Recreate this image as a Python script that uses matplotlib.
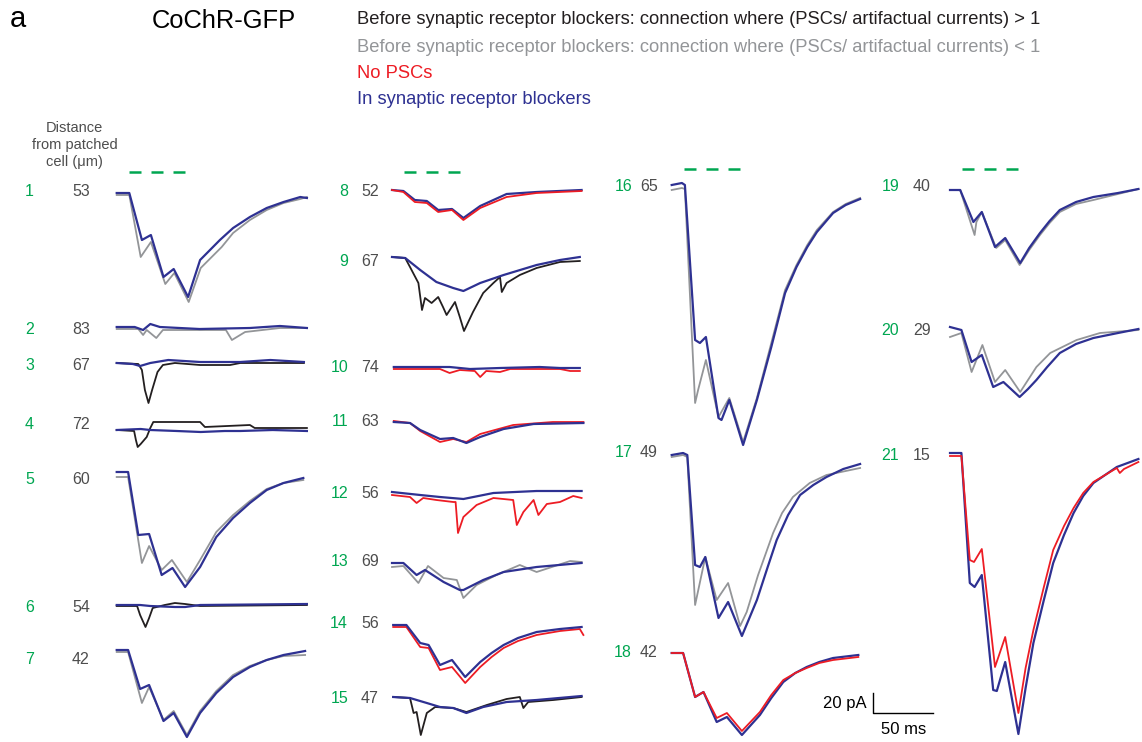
import matplotlib.pyplot as plt

plt.rcParams['font.family'] = ['Liberation Sans', 'DejaVu Sans']

BLUE = '#2e3192'
RED = '#ed1c24'
GREY = '#939598'
BLACK = '#231f20'
GREEN = '#00a651'
LABEL = '#4d4d4d'

# ---- data -------------------------------------------------------------
cell_ids = list(range(1, 22))
distances_um = [53, 83, 67, 72, 60, 54, 42, 52, 67, 74, 63, 56, 69, 56, 47,
                65, 49, 42, 40, 29, 15]

legend_lines = [
    'Before synaptic receptor blockers: connection where (PSCs/ artifactual currents) > 1',
    'Before synaptic receptor blockers: connection where (PSCs/ artifactual currents) < 1',
    'No PSCs',
    'In synaptic receptor blockers',
]

pulse_onsets_ms = [10, 28.5, 47]
pulse_width_ms = 10
scale_pA = 20
scale_ms = 50

# currents in pA (relative to baseline), time in ms from trace start
t1_b = [0, 10.5, 21, 28.5, 39, 47.5, 59.5, 69.5, 86, 97, 111, 125, 139, 153, 158.5]
i1_b = [0, 0, -47, -42, -84, -76, -104, -67, -47, -35, -24, -15, -9, -4, -5]
t1_g = [0, 10.5, 20, 28.5, 40.5, 48, 60, 70, 87.5, 97, 111, 125, 139, 153, 158.5]
i1_g = [-2, -2, -64, -49, -91, -80, -109, -75, -54, -40, -27, -17, -10, -6, -4]

t2_b = [0, 15, 22, 28, 36, 69, 111, 136, 158.5]
i2_b = [0, 0, -3, 3, 0, -2, -1, 1, -1]
t2_g = [0, 18, 22, 25, 33, 38.5, 69, 91, 96, 107, 136, 158.5]
i2_g = [-2, -2, -8, -3, -11, -3, -3, -3, -13, -5, -1, -1]

t3_b = [0, 13.5, 19.5, 28, 43, 69.5, 103, 128, 156]
i3_b = [0, -1, -3, 0, 3, 1, 1, 3, 1]
t3_k = [0, 18, 21, 23.5, 26.5, 29.5, 34, 38.5, 48.5, 69.5, 94.5, 103, 156]
i3_k = [0, -1, -7, -27, -40, -27, -9, -2, 0, -2, -2, 0, 0]

t4_b = [0, 20, 28, 50, 70, 90, 103, 130, 158.5]
i4_b = [0, 1, 0, -1, -2, -1, -1, 0, -1]
t4_k = [0, 14.5, 16, 17.5, 20, 25, 28, 30.5, 40, 69.5, 73.5, 111, 115, 158.5]
i4_k = [0, -1, -10, -17, -14, -7, 2, 8, 8, 8, 3, 5, 2, 2]

t5_b = [0, 9.5, 18, 27, 37.5, 46.5, 57, 69.5, 83, 97, 111, 125, 139, 155.5]
i5_b = [0, 0, -63, -62, -103, -96, -115, -95, -65, -46, -31, -18, -11, -6]
t5_g = [0, 9.5, 21, 27, 37.5, 46, 58.5, 69.5, 83, 97, 111, 125, 139, 155.5]
i5_g = [-5, -5, -91, -74, -98, -88, -110, -88, -60, -43, -29, -17, -11, -8]

t6_b = [0, 19.5, 28, 48.5, 57, 69.5, 158.5]
i6_b = [0, 0, -1, -2, -2, 0, 1]
t6_k = [0, 17, 19.5, 24, 27, 30, 40, 48.5, 57, 69.5, 158.5]
i6_k = [-1, -1, -10, -22, -13, -3, 0, 2, 1, -1, 0]

t7_b = [0, 9.5, 19.5, 27, 39, 47.5, 58.5, 69.5, 83, 97, 111, 125, 139, 157]
i7_b = [0, 0, -39, -35, -71, -63, -87, -63, -43, -27, -17, -10, -5, -1]
t7_g = [0, 9.5, 21, 27, 39, 47.5, 58.5, 69.5, 83, 97, 111, 125, 139, 157]
i7_g = [-2, -2, -53, -37, -70, -61, -85, -61, -41, -25, -16, -10, -6, -5]

t8 = [0, 9.5, 19, 29, 38.5, 50, 59.5, 73.5, 95.5, 120.5, 158]
i8_r = [0, -2, -12, -13, -22, -20, -30, -18, -7, -3, -1]
i8_b = [0, -1, -10, -11, -20, -19, -28, -16, -4, -2, 0]

t9_b = [0, 11, 23.5, 37, 51, 59.5, 73.5, 93, 120.5, 140, 156.5]
i9_b = [0, -1, -13, -25, -31, -34, -26, -18, -8, -3, 0]
t9_k = [0, 11, 15, 22, 25, 27.5, 33, 38.5, 42.5, 45.5, 52.5, 56.5, 60, 67.5,
        76, 84.5, 90, 91.5, 95.5, 106.5, 120.5, 140, 156.5]
i9_k = [0, -1, -10, -26, -53, -41, -46, -40, -50, -58, -45, -60, -74, -55,
        -36, -26, -20, -35, -26, -18, -11, -5, -4]

t10_b = [1.5, 48, 65, 90, 123, 140, 156.5]
i10_b = [0, 0, -2, -1, 0, -1, -1]
t10_r = [1.5, 40, 48, 56.5, 69, 73.5, 78.5, 90, 98.5, 140, 148.5, 156.5]
i10_r = [-2, -2, -6, -3, -4, -10, -4, -5, -2, -2, -4, -4]

t11_b = [1.5, 15, 23.5, 40, 51, 62, 73.5, 93, 118, 159.5]
i11_b = [0, -1, -8, -17, -16, -21, -15, -7, -2, -1]
t11_r = [1.5, 15, 23.5, 40, 51, 62, 73.5, 101, 134, 159.5]
i11_r = [1, -1, -9, -20, -17, -20, -12, -3, 0, 0]

t12_b = [0, 23.5, 40, 59.5, 84.5, 120.5, 158]
i12_b = [0, -3, -5, -7, -1, 1, 1]
t12_r = [0, 15, 20.5, 26, 37, 51, 53, 55, 59.5, 70.5, 84.5, 101, 104, 109.5,
         118, 122, 129, 140, 151, 158]
i12_r = [-3, -5, -11, -6, -8, -10, -10, -41, -25, -13, -6, -8, -33, -20,
         -8, -23, -12, -10, -4, -6]

t13_b = [0, 9.5, 20.5, 27.5, 43, 56.5, 59.5, 76, 93, 120.5, 158]
i13_b = [0, 0, -12, -7, -19, -27, -27, -17, -9, -4, 0]
t13_g = [0, 9.5, 22, 30, 43, 54, 59.5, 70.5, 87, 106.5, 120.5, 148.5, 158]
i13_g = [-4, -3, -20, -3, -15, -17, -35, -22, -12, -2, -9, 2, 1]

t14_b = [1, 12, 23.5, 30.5, 40, 50, 61, 73.5, 83, 93, 105, 120.5, 140, 158]
i14_b = [0, 0, -18, -20, -40, -35, -52, -37, -28, -20, -13, -7, -4, -2]
t14_r = [1, 12, 23.5, 30.5, 40, 50, 61, 73.5, 83, 93, 105, 120.5, 140, 156.5, 159.5]
i14_r = [-2, -2, -22, -23, -45, -42, -58, -42, -32, -23, -16, -10, -6, -4, -10]

t15_b = [1, 15, 29, 40, 51, 62, 76, 95.5, 120.5, 158]
i15_b = [0, -1, -6, -10, -11, -16, -10, -5, -3, 1]
t15_k = [1, 15, 18, 20.5, 24, 29, 36, 51, 62, 79, 95.5, 106.5, 109.5, 113.5,
         134.5, 158]
i15_k = [0, -1, -16, -15, -38, -16, -10, -11, -15, -8, -2, 0, -11, -5, -3, 0]

t16_b = [0, 8.5, 11, 19.5, 23.5, 28.5, 39, 41.5, 48, 59.5, 71, 83, 94.5, 104,
         113, 121, 134.5, 145, 157]
i16_b = [0, 2, 0, -155, -158, -152, -233, -235, -215, -260, -215, -162, -108,
         -82, -62, -47, -28, -20, -14]
t16_g = [0, 8.5, 11, 19.5, 22, 28.5, 39, 48, 59.5, 71, 83, 94.5, 104, 113,
         121, 134.5, 145, 157]
i16_g = [-5, -3, -4, -218, -205, -175, -232, -213, -257, -213, -158, -105,
         -80, -60, -45, -27, -19, -13]

t17_b = [0, 9.5, 13, 19.5, 23.5, 28, 39, 47, 58.5, 71, 80, 87.5, 97, 107,
         118, 129, 143, 157]
i17_b = [0, 2, 0, -110, -112, -102, -163, -147, -181, -145, -112, -85, -60,
         -40, -30, -22, -14, -9]
t17_g = [0, 9.5, 13, 19.5, 28, 37.5, 47, 57, 62.5, 72, 84.5, 92, 101, 115,
         129, 157]
i17_g = [-2, 0, -2, -150, -102, -145, -128, -171, -157, -120, -78, -58, -42,
         -28, -20, -13]

t18 = [0, 9.5, 19.5, 26.5, 37.5, 46, 58.5, 73.5, 83, 93, 103, 112.5, 123,
       134.5, 155.5]
i18_b = [0, 0, -44, -39, -69, -64, -82, -62, -45, -29, -20, -14, -9, -5, -2]
i18_r = [0, 0, -44, -39, -65, -60, -78, -59, -42, -27, -20, -15, -10, -7, -4]

t19_b = [0, 8.5, 19.5, 26.5, 37.5, 46, 58.5, 66, 75, 83, 91.5, 105, 119.5,
         140, 157]
i19_b = [0, 0, -32, -22, -57, -48, -73, -58, -43, -31, -20, -12, -7, -3, 1]
t19_g = [0, 8.5, 20.5, 22, 26.5, 38.5, 46, 58, 66, 75, 83, 91.5, 105, 119.5,
         140, 157]
i19_g = [0, 0, -45, -32, -22, -58, -50, -75, -60, -45, -33, -22, -14, -10,
         -4, 1]

t20_b = [0, 9.5, 18, 26.5, 36, 44.5, 58, 65, 72, 81, 91.5, 105, 119.5, 140, 157]
i20_b = [0, -3, -35, -28, -60, -55, -70, -62, -53, -40, -26, -17, -11, -6, -2]
t20_g = [0, 9.5, 18, 27, 37.5, 46, 58.5, 72, 83.5, 105.5, 125, 157]
i20_g = [-10, -6, -45, -18, -55, -43, -65, -40, -26, -13, -6, -3]

t21_b = [0, 9.5, 16.5, 20.5, 26.5, 36, 39, 46, 57, 63, 69.5, 78, 86, 95, 103,
         111, 119.5, 139, 157]
i21_b = [0, 0, -130, -134, -122, -237, -238, -209, -281, -235, -190, -148,
         -110, -82, -60, -43, -30, -14, -6]
t21_r = [0, 9.5, 16.5, 20, 26.5, 37.5, 46, 57, 63, 69.5, 78, 86, 95, 103, 111,
         119.5, 139, 141.5, 145, 157]
i21_r = [-3, -3, -107, -109, -96, -214, -184, -260, -215, -177, -135, -97,
         -73, -55, -40, -29, -15, -20, -16, -9]

# (cell, time, current, colour) in drawing order
traces = [
    (1, t1_g, i1_g, GREY), (1, t1_b, i1_b, BLUE),
    (2, t2_g, i2_g, GREY), (2, t2_b, i2_b, BLUE),
    (3, t3_k, i3_k, BLACK), (3, t3_b, i3_b, BLUE),
    (4, t4_k, i4_k, BLACK), (4, t4_b, i4_b, BLUE),
    (5, t5_g, i5_g, GREY), (5, t5_b, i5_b, BLUE),
    (6, t6_k, i6_k, BLACK), (6, t6_b, i6_b, BLUE),
    (7, t7_g, i7_g, GREY), (7, t7_b, i7_b, BLUE),
    (8, t8, i8_b, BLUE), (8, t8, i8_r, RED),
    (9, t9_k, i9_k, BLACK), (9, t9_b, i9_b, BLUE),
    (10, t10_r, i10_r, RED), (10, t10_b, i10_b, BLUE),
    (11, t11_r, i11_r, RED), (11, t11_b, i11_b, BLUE),
    (12, t12_r, i12_r, RED), (12, t12_b, i12_b, BLUE),
    (13, t13_g, i13_g, GREY), (13, t13_b, i13_b, BLUE),
    (14, t14_r, i14_r, RED), (14, t14_b, i14_b, BLUE),
    (15, t15_k, i15_k, BLACK), (15, t15_b, i15_b, BLUE),
    (16, t16_g, i16_g, GREY), (16, t16_b, i16_b, BLUE),
    (17, t17_g, i17_g, GREY), (17, t17_b, i17_b, BLUE),
    (18, t18, i18_b, BLUE), (18, t18, i18_r, RED),
    (19, t19_g, i19_g, GREY), (19, t19_b, i19_b, BLUE),
    (20, t20_g, i20_g, GREY), (20, t20_b, i20_b, BLUE),
    (21, t21_b, i21_b, BLUE), (21, t21_r, i21_r, RED),
]

# ---- layout (pixels of the 1142x742 canvas) ---------------------------
PX_PER_MS = 1.2
col_of_cell = [0] * 7 + [1] * 8 + [2] * 3 + [3] * 3
col_x0 = [116.7, 392, 671.7, 950]
baseline_y = [193, 327, 363, 430, 472, 605, 650,
              190, 257, 367, 422, 492, 563, 625, 697,
              185, 455, 653,
              190, 327, 453]
label_y = [192, 330, 365, 424.5, 479, 608, 659.5,
           191, 262, 367.5, 422, 493.5, 561.5, 624, 698.5,
           186.7, 452.5, 652.5,
           186.7, 330.5, 455]
# (number x, number ha, distance x, distance ha) per column
label_x = [(29.5, 'center', 81, 'center'),
           (348, 'right', 361, 'left'),
           (632, 'right', 640, 'left'),
           (899, 'right', 913, 'left')]
pulse_y = [171.7, 171.7, 169, 169.3]


def X(px):
    return px / PX_PER_MS


def Y(py):
    return -py


fig = plt.figure(figsize=(11.42, 7.42), dpi=100)
ax = fig.add_axes([0, 0, 1, 1])
ax.set_xlim(0, X(1142))
ax.set_ylim(Y(742), 0)
ax.axis('off')

for cell, t, cur, color in traces:
    k = cell - 1
    x0 = X(col_x0[col_of_cell[k]])
    y0 = Y(baseline_y[k])
    lw = 1.6 if color == BLUE else 1.3
    ax.plot([x0 + v for v in t], [y0 + v for v in cur], color=color, lw=lw,
            solid_joinstyle='round')

for k, (cid, dist) in enumerate(zip(cell_ids, distances_um)):
    nx, nha, dx, dha = label_x[col_of_cell[k]]
    ax.text(X(nx), Y(label_y[k]), str(cid), color=GREEN, fontsize=11.5,
            ha=nha, va='center')
    ax.text(X(dx), Y(label_y[k]), str(dist), color=LABEL, fontsize=11.5,
            ha=dha, va='center')

# light pulses
for c, x0 in enumerate(col_x0):
    for on in pulse_onsets_ms:
        xs = X(x0) + on
        ax.plot([xs, xs + pulse_width_ms], [Y(pulse_y[c])] * 2, color=GREEN,
                lw=1.8, solid_capstyle='butt')

# scale bar
sx, sy = X(873.3), Y(713.3)
ax.plot([sx, sx, sx + scale_ms], [sy + scale_pA, sy, sy], color='black', lw=1.0)
ax.text(sx - 5.5, sy + scale_pA / 2, f'{scale_pA} pA', fontsize=12,
        ha='right', va='center')
ax.text(sx + scale_ms / 2, Y(729), f'{scale_ms} ms', fontsize=12,
        ha='center', va='center')

# titles and legend text
ax.text(X(10), Y(27), 'a', fontsize=21, va='baseline')
ax.text(X(151.5), Y(27.7), 'CoChR-GFP', fontsize=18.4, va='baseline')
for line, color, ly in zip(legend_lines, [BLACK, GREY, RED, BLUE],
                           [20, 47.5, 73.5, 99]):
    ax.text(X(357), Y(ly), line, color=color, fontsize=13.2, va='center')
ax.text(X(74.5), Y(145), 'Distance\nfrom patched\ncell (\u03bcm)', color=LABEL,
        fontsize=10.5, ha='center', va='center', linespacing=1.25)

fig.savefig('out.png', dpi=100)
